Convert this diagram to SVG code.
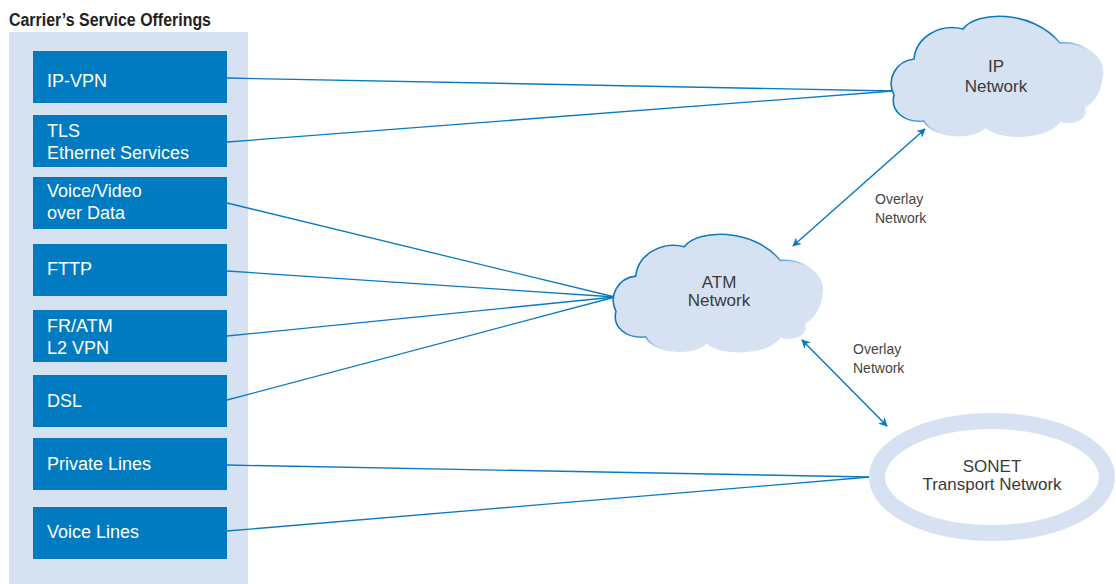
<svg xmlns="http://www.w3.org/2000/svg" width="1116" height="584" viewBox="0 0 1116 584">
  <defs>
    <style>
      .panel { fill: #d6e2f2; }
      .svc { fill: #007bc1; }
      .svc-label { font-family: "Liberation Sans", Arial, sans-serif; font-size: 18px; fill: #ffffff; }
      .title { font-family: "Liberation Sans Narrow", "Liberation Sans", Arial, sans-serif; font-size: 18px; font-weight: bold; fill: #231f20; }
      .net-label { font-family: "Liberation Sans", Arial, sans-serif; font-size: 17px; fill: #3a3a3a; text-anchor: middle; }
      .overlay { font-family: "Liberation Sans", Arial, sans-serif; font-size: 14px; fill: #444444; }
      .link { stroke: #0a7ac0; stroke-width: 1.3; fill: none; }
      .overlay-link { stroke: #0a7ac0; stroke-width: 1.5; fill: none; marker-start: url(#arrow); marker-end: url(#arrow); }
      .cloud { fill: #d6e2f2; stroke: url(#cloudEdge); stroke-width: 1.6; }
    </style>
    <linearGradient id="cloudEdge" x1="0" y1="0" x2="1" y2="1">
      <stop offset="0" stop-color="#0a7ac0"/>
      <stop offset="0.45" stop-color="#0a7ac0"/>
      <stop offset="0.6" stop-color="#d6e2f2"/>
      <stop offset="1" stop-color="#d6e2f2"/>
    </linearGradient>
    <marker id="arrow" viewBox="0 0 10 10" refX="9" refY="5" markerWidth="9" markerHeight="9" orient="auto-start-reverse" markerUnits="userSpaceOnUse">
      <path d="M0,0 L10,5 L0,10 L3,5 Z" fill="#0a7ac0"/>
    </marker>
    <!-- shared cloud outline, local box about 210 x 120 -->
    <path id="cloudShape" d="M 2,80 C -6,64 4,46 22,44 C 24,22 48,8 71,14 C 84,-4 140,-6 168,28 C 190,26 214,42 210,62 C 208,80 200,88 192,92 C 196,104 182,110 168,106 C 156,124 108,126 94,112 C 76,126 40,122 32,106 C 12,108 -2,96 2,80 Z"/>
  </defs>

  <rect width="1116" height="584" fill="#ffffff"/>

  <!-- service offerings panel -->
  <g id="offerings">
    <text class="title" x="9" y="26" textLength="202" lengthAdjust="spacingAndGlyphs">Carrier’s Service Offerings</text>
    <rect class="panel" x="9" y="32" width="239" height="552"/>
  </g>

  <g id="svc-ipvpn">
    <rect class="svc" x="33" y="51" width="194" height="52"/>
    <text class="svc-label" x="47" y="87">IP-VPN</text>
  </g>
  <g id="svc-tls">
    <rect class="svc" x="33" y="115" width="194" height="52"/>
    <text class="svc-label" x="47" y="137">TLS</text>
    <text class="svc-label" x="47" y="159">Ethernet Services</text>
  </g>
  <g id="svc-voicevideo">
    <rect class="svc" x="33" y="177" width="194" height="52"/>
    <text class="svc-label" x="47" y="197">Voice/Video</text>
    <text class="svc-label" x="47" y="219">over Data</text>
  </g>
  <g id="svc-fttp">
    <rect class="svc" x="33" y="244" width="194" height="52"/>
    <text class="svc-label" x="47" y="275">FTTP</text>
  </g>
  <g id="svc-fratm">
    <rect class="svc" x="33" y="310" width="194" height="52"/>
    <text class="svc-label" x="47" y="332">FR/ATM</text>
    <text class="svc-label" x="47" y="354">L2 VPN</text>
  </g>
  <g id="svc-dsl">
    <rect class="svc" x="33" y="375" width="194" height="52"/>
    <text class="svc-label" x="47" y="407">DSL</text>
  </g>
  <g id="svc-private">
    <rect class="svc" x="33" y="438" width="194" height="52"/>
    <text class="svc-label" x="47" y="470">Private Lines</text>
  </g>
  <g id="svc-voice">
    <rect class="svc" x="33" y="507" width="194" height="52"/>
    <text class="svc-label" x="47" y="538">Voice Lines</text>
  </g>

  <!-- connectors -->
  <g id="connectors">
    <line class="link" x1="227" y1="78" x2="893" y2="91"/>
    <line class="link" x1="227" y1="142" x2="893" y2="91"/>
    <line class="link" x1="227" y1="203" x2="615" y2="297"/>
    <line class="link" x1="227" y1="271" x2="615" y2="297"/>
    <line class="link" x1="227" y1="336" x2="615" y2="297"/>
    <line class="link" x1="227" y1="400" x2="615" y2="297"/>
    <line class="link" x1="227" y1="465" x2="870" y2="477"/>
    <line class="link" x1="227" y1="531" x2="870" y2="477"/>
    <line class="overlay-link" x1="793" y1="246" x2="925" y2="129"/>
    <line class="overlay-link" x1="802" y1="340" x2="887" y2="426"/>
  </g>

  <g id="ip-network">
    <use href="#cloudShape" class="cloud" transform="translate(892,15)"/>
    <text class="net-label" x="996" y="72">IP</text>
    <text class="net-label" x="996" y="92">Network</text>
  </g>

  <g id="atm-network">
    <use href="#cloudShape" class="cloud" transform="translate(614,233) scale(0.99,0.98)"/>
    <text class="net-label" x="719" y="288">ATM</text>
    <text class="net-label" x="719" y="306">Network</text>
  </g>

  <g id="sonet-network">
    <ellipse cx="992" cy="477" rx="115" ry="56" fill="#ffffff" stroke="#d6e2f2" stroke-width="16"/>
    <text class="net-label" x="992" y="472">SONET</text>
    <text class="net-label" x="992" y="490">Transport Network</text>
  </g>

  <g id="overlay-labels">
    <text class="overlay" x="875" y="204">Overlay</text>
    <text class="overlay" x="875" y="223">Network</text>
    <text class="overlay" x="853" y="354">Overlay</text>
    <text class="overlay" x="853" y="373">Network</text>
  </g>
</svg>
